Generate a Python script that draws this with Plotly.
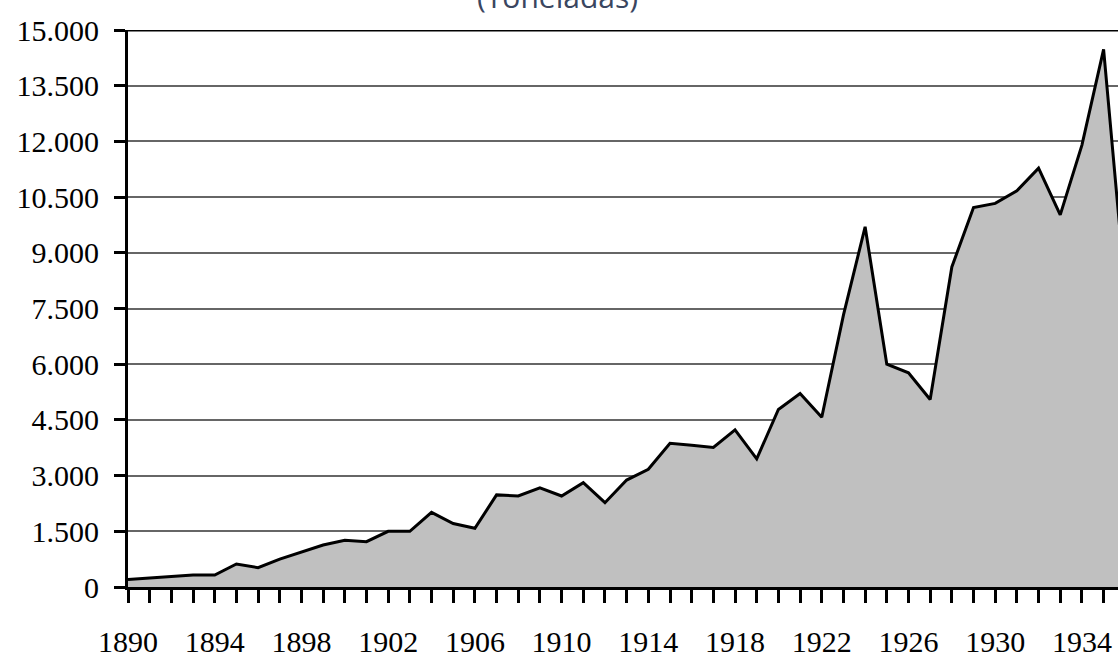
import plotly.graph_objects as go

years = list(range(1890, 1937))
toneladas = [
    200, 250, 280, 320, 320, 620, 520, 750, 950, 1130,
    1260, 1220, 1500, 1500, 2010, 1710, 1580, 2480, 2450, 2670,
    2450, 2810, 2270, 2880, 3170, 3870, 3820, 3760, 4230, 3450,
    4780, 5210, 4570, 7320, 9700, 6000, 5770, 5050, 8620, 10220,
    10330, 10670, 11280, 10020, 11900, 14480, 8000,
]
y_ticks = list(range(0, 15001, 1500))
title_text = "(Toneladas)"

W, H = 1118, 659
L, T, B = 128, 30, 72
plot_w = W - L
px_per_year = 21.68
x_end = 1890 + plot_w / px_per_year
plot_h = H - T - B

fig = go.Figure()
fig.add_trace(go.Scatter(
    x=years, y=toneladas, mode="lines", fill="tozeroy",
    fillcolor="#C0C0C0", line=dict(color="black", width=3),
    hoverinfo="skip", showlegend=False,
))

tick_font = dict(family="Liberation Serif, DejaVu Serif, serif", size=30, color="black")

fig.update_layout(
    width=W, height=H,
    margin=dict(l=L, r=0, t=T, b=B, pad=0, autoexpand=False),
    paper_bgcolor="white", plot_bgcolor="white",
    separators=",.",
    showlegend=False,
    xaxis=dict(
        range=[1890, x_end], tick0=1890, dtick=4,
        ticks="outside", ticklen=13, tickwidth=3, tickcolor="black",
        showline=True, linewidth=3, linecolor="black",
        showgrid=False, zeroline=False, automargin=False,
        tickfont=tick_font, ticklabelstandoff=13,
        minor=dict(ticks="outside", dtick=1, tick0=1890, ticklen=13,
                   tickwidth=3, tickcolor="black", showgrid=False),
    ),
    yaxis=dict(
        range=[0, 15000], tickvals=y_ticks, tickformat=",d",
        ticks="outside", ticklen=11, tickwidth=3, tickcolor="black",
        showline=True, linewidth=3, linecolor="black",
        showgrid=True, gridcolor="#666666", gridwidth=1.7,
        zeroline=False, automargin=False,
        tickfont=tick_font, ticklabelstandoff=9,
    ),
    shapes=[dict(type="line", xref="paper", yref="y", x0=0, x1=1,
                 y0=15000, y1=15000, line=dict(color="black", width=3))],
    annotations=[dict(
        text=title_text, xref="paper", yref="paper",
        x=(557 - L) / plot_w, y=1 + (T + 4) / plot_h,
        xanchor="center", yanchor="middle", showarrow=False,
        font=dict(family="Open Sans", size=30, color="#3A4660"),
    )],
)

fig.write_html(
    "out.html",
    config={"displayModeBar": False},
    post_script="document.body.style.margin='0';document.body.style.padding='0';",
)
